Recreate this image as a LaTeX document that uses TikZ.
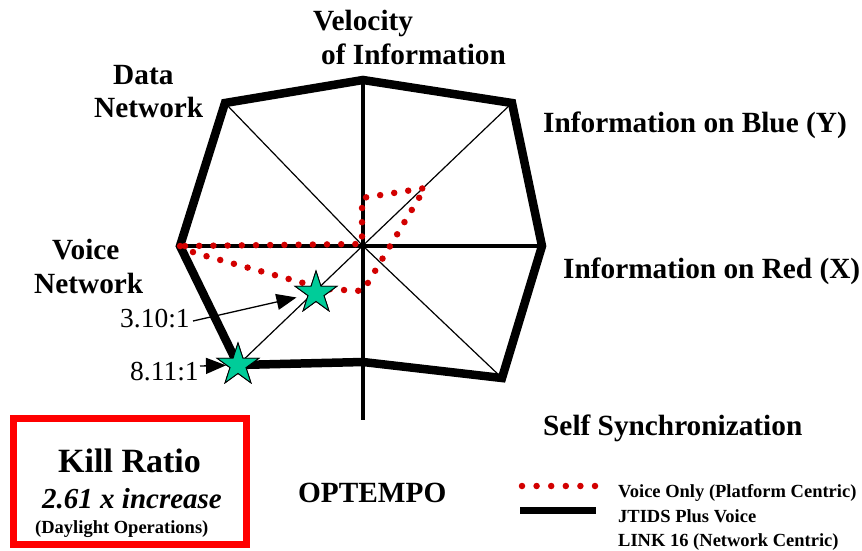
\documentclass[tikz,border=0pt]{standalone}
\usepackage{fontspec}
\setmainfont{Liberation Serif}
\usetikzlibrary{shapes.geometric,arrows.meta}
\definecolor{dotred}{RGB}{210,0,0}
\definecolor{boxred}{RGB}{255,0,0}
\definecolor{starg}{RGB}{0,204,153}
\tikzset{
  lbl/.style={anchor=base west,inner sep=0pt,font=\bfseries\fontsize{29.3}{35}\selectfont},
  leg/.style={anchor=base west,inner sep=0pt,font=\bfseries\fontsize{18.5}{22}\selectfont},
  ratio/.style={anchor=base west,inner sep=0pt,font=\fontsize{27.5}{32}\selectfont},
  heavy/.style={line width=8.5pt,line join=miter,line cap=butt},
  axis/.style={line width=3.3pt},
  diag/.style={line width=1.2pt},
  reddots/.style={draw=dotred,line width=6.5pt,line cap=round,dash pattern=on 0pt off 14.2pt},
  starnode/.style={star,star points=5,star point ratio=2.618,minimum size=44pt,inner sep=0pt,draw=black,line width=0.9pt,fill=starg},
  ptr/.style={line width=1.3pt,-{Triangle[length=20pt,width=16pt]}}
}
\begin{document}
\begin{tikzpicture}[x=1pt,y=-1pt]
\useasboundingbox (0,0) rectangle (862,550);
% vertices
\coordinate (t) at (363,80);
\coordinate (ur) at (512,103);
\coordinate (r) at (542,246);
\coordinate (lr) at (502,378);
\coordinate (b) at (363,362);
\coordinate (ll) at (238,365);
\coordinate (l) at (180,246);
\coordinate (ul) at (225,103);
\coordinate (c) at (363,246);
\coordinate (vb) at (363,420);
% diagonals
\draw[diag] (ul) -- (c) -- (lr);
\draw[diag] (ur) -- (ll);
% axes
\draw[axis] (l) -- (r);
\draw[axis] (t) -- (vb);
% heavy polygon
\draw[heavy] (t) -- (ur) -- (r) -- (lr) -- (b) -- (ll) -- (l) -- (ul) -- cycle;
% red dotted path
\coordinate (d1) at (185,246);
\coordinate (d2) at (362,244);
\coordinate (d3) at (362,198);
\coordinate (d4) at (425,188);
\coordinate (d5) at (363,291);
\coordinate (d6) at (325,289);
\coordinate (d7) at (195,253);
\draw[reddots] (d1) -- (d2) -- (d3) -- (d4) -- (d5) -- (d6) -- (d7) -- (l);
% labels
\node[lbl] (vel) at (313,30) {Velocity};
\node[lbl] (ofi) at (321,64) {of Information};
\node[lbl] (data) at (113,84) {Data};
\node[lbl] (dnet) at (94,117) {Network};
\node[lbl] (blue) at (543,132) {Information on Blue (Y)};
\node[lbl] (voice) at (52,259) {Voice};
\node[lbl] (vnet) at (34,293) {Network};
\node[lbl] (red) at (563,278) {Information on Red (X)};
\node[lbl] (self) at (543,435) {Self Synchronization};
\node[lbl] (opt) at (298,502) {OPTEMPO};
% ratio labels and arrows
\node[ratio] (r1) at (120,327) {3.10:1};
\node[ratio] (r2) at (130,380) {8.11:1};
\node[starnode] (s1) at (316,293) {};
\node[starnode] (s2) at (238,365) {};
\coordinate (a1) at (193,321);
\coordinate (a2) at (200,366);
\draw[ptr,shorten >=20pt] (a1) -- (s1.center);
\draw[ptr,shorten >=12pt] (a2) -- (s2.center);
% redraw stars on top
\node[starnode] at (s1.center) {};
\node[starnode] at (s2.center) {};
% kill ratio box
\node[draw=boxred,line width=7pt,minimum width=233pt,minimum height=126pt,inner sep=0pt] (kill) at (130,481.5) {};
\node[anchor=base west,inner sep=0pt,font=\bfseries\fontsize{34}{40}\selectfont] (kr) at (58,472) {Kill Ratio};
\node[anchor=base west,inner sep=0pt,font=\bfseries\itshape\fontsize{29}{34}\selectfont] (inc) at (42,508) {2.61 x increase};
\node[leg] (day) at (35,533) {(Daylight Operations)};
% legend
\coordinate (ld1) at (522,486);
\coordinate (ld2) at (595,486);
\draw[reddots,dash pattern=on 0pt off 14.6pt] (ld1) -- (ld2);
\coordinate (lb1) at (520,510);
\coordinate (lb2) at (596,510);
\draw[line width=7pt] (lb1) -- (lb2);
\node[leg] (l1) at (618,497) {Voice Only (Platform Centric)};
\node[leg] (l2) at (618,522) {JTIDS Plus Voice};
\node[leg] (l3) at (618,546) {LINK 16 (Network Centric)};
\end{tikzpicture}
\end{document}
